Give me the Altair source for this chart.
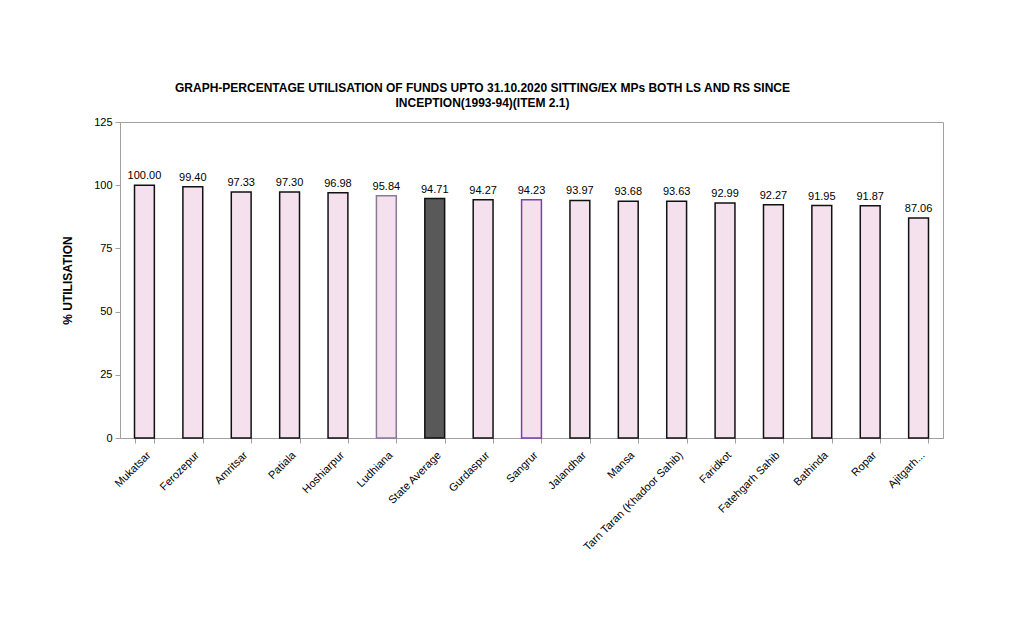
import altair as alt
import pandas as pd

districts = ["Mukatsar", "Ferozepur", "Amritsar", "Patiala", "Hoshiarpur", "Ludhiana",
             "State Average", "Gurdaspur", "Sangrur", "Jalandhar", "Mansa",
             "Tarn Taran (Khadoor Sahib)", "Faridkot", "Fatehgarh Sahib", "Bathinda",
             "Ropar", "Ajitgarh..."]
utilisation = [100.00, 99.40, 97.33, 97.30, 96.98, 95.84, 94.71, 94.27, 94.23, 93.97,
               93.68, 93.63, 92.99, 92.27, 91.95, 91.87, 87.06]
fills = ["#f5e1ee"] * 6 + ["#595959"] + ["#f5e1ee"] * 10
strokes = ["#111111"] * 5 + ["#8a7a9a", "#111111", "#111111", "#7a3fb0"] + ["#111111"] * 8

df = pd.DataFrame({"district": districts, "value": utilisation,
                   "fill": fills, "stroke": strokes})

x = alt.X("district:N", sort=districts, title=None,
          scale=alt.Scale(paddingInner=0.59, paddingOuter=0.3),
          axis=alt.Axis(labelAngle=-45, labelFont="Liberation Sans", labelFontSize=11,
                        labelColor="#000000", tickBand="extent", tickColor="#a0a0a0",
                        domainColor="#a0a0a0", tickSize=5, labelPadding=6,
                        labelLimit=300))
y = alt.Y("value:Q", title="% UTILISATION",
          scale=alt.Scale(domain=[0, 125], nice=False),
          axis=alt.Axis(values=[0, 25, 50, 75, 100, 125], grid=False,
                        labelFont="Liberation Sans", labelFontSize=11, labelColor="#000000",
                        tickColor="#a0a0a0", domainColor="#a0a0a0", tickSize=5,
                        titleFont="Liberation Sans", titleFontSize=12, titleFontWeight="bold",
                        titleColor="#000000", titlePadding=19, labelPadding=3))

bars = alt.Chart(df).mark_bar(strokeWidth=1.5).encode(
    x=x, y=y,
    fill=alt.Fill("fill:N", scale=None),
    stroke=alt.Stroke("stroke:N", scale=None),
)
labels = alt.Chart(df).mark_text(baseline="bottom", dy=-4, font="Liberation Sans",
                                 fontSize=11, color="#000000").encode(
    x=alt.X("district:N", sort=districts),
    y="value:Q",
    text=alt.Text("value:Q", format=".2f"),
)

chart = (bars + labels).properties(
    width=823, height=316,
    title=alt.TitleParams(
        ["GRAPH-PERCENTAGE UTILISATION OF FUNDS UPTO 31.10.2020 SITTING/EX MPs BOTH LS AND RS SINCE",
         "INCEPTION(1993-94)(ITEM 2.1)"],
        font="Liberation Sans", fontSize=12, fontWeight="bold", color="#000000",
        anchor="middle", dx=-49, offset=6, lineHeight=15),
    autosize=alt.AutoSizeParams(type="none"),
    padding={"left": 120, "top": 122, "right": 77, "bottom": 181},
).configure_view(stroke="#a0a0a0", strokeWidth=1)

chart.save("out.html", embed_options={"renderer": "svg", "actions": False})
